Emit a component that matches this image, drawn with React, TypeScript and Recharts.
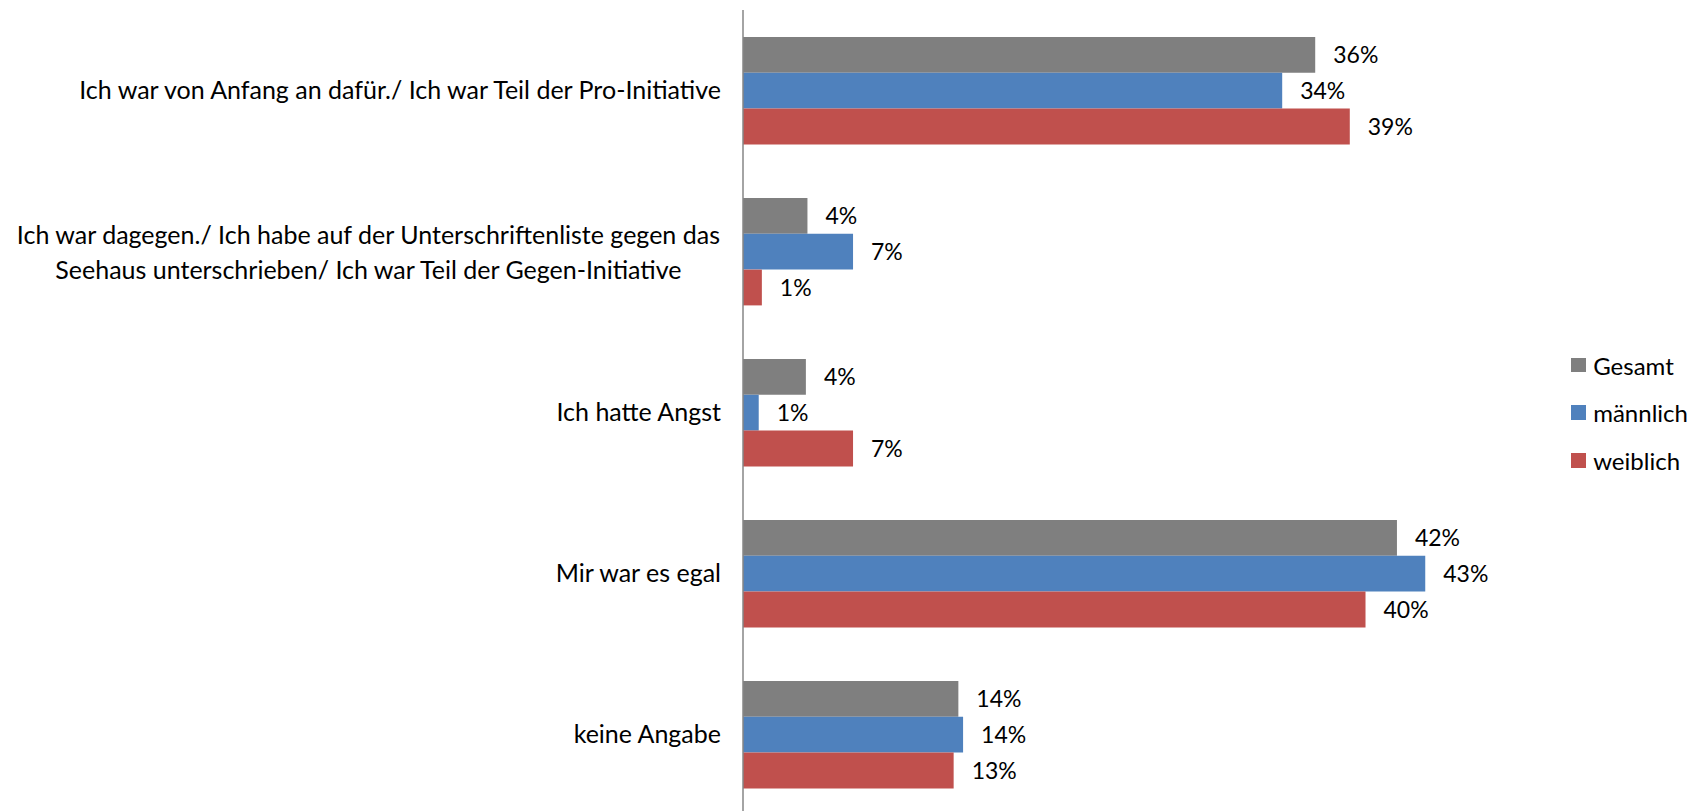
import React from 'react';
import { BarChart, Bar, XAxis, YAxis, LabelList } from 'recharts';

const categories = [
  'Ich war von Anfang an dafür./ Ich war Teil der Pro-Initiative',
  'Ich war dagegen./ Ich habe auf der Unterschriftenliste gegen das\nSeehaus unterschrieben/ Ich war Teil der Gegen-Initiative',
  'Ich hatte Angst',
  'Mir war es egal',
  'keine Angabe',
];
const gesamt = [36.4, 4.1, 4.0, 41.6, 13.7];
const maennlich = [34.3, 7.0, 1.0, 43.4, 14.0];
const weiblich = [38.6, 1.2, 7.0, 39.6, 13.4];
const seriesKeys = ['gesamt', 'maennlich', 'weiblich'];
const seriesNames = ['Gesamt', 'männlich', 'weiblich'];
const seriesColors = ['#7F7F7F', '#4F81BD', '#C0504D'];
const xDomain = [0, 50];

const data = categories.map((name, i) => ({
  name,
  gesamt: gesamt[i],
  maennlich: maennlich[i],
  weiblich: weiblich[i],
}));

const FONT = 'Lato, sans-serif';
const CAT_SIZE = 25;
const LABEL_SIZE = 23;
const LEGEND_SIZE = 24;

let ctx: CanvasRenderingContext2D | null = null;
function measure(t: string, size: number): number {
  if (!ctx) ctx = document.createElement('canvas').getContext('2d');
  if (!ctx) return t.length * size * 0.5;
  ctx.font = `${size}px Lato`;
  return ctx.measureText(t).width;
}

const CatTick = (props: any) => {
  const { x, y, payload } = props;
  const lines = String(payload.value).split('\n');
  const lh = 34.5;
  if (lines.length === 1) {
    return (
      <text x={x} y={y} dy="0.35em" textAnchor="end" fontFamily={FONT} fontSize={CAT_SIZE} fill="#000">
        {lines[0]}
      </text>
    );
  }
  const maxW = Math.max(...lines.map((l) => measure(l, CAT_SIZE)));
  const cx = x - maxW / 2;
  return (
    <g>
      {lines.map((l, i) => (
        <text
          key={i}
          x={cx}
          y={y + 1 + (i - (lines.length - 1) / 2) * lh}
          dy="0.35em"
          textAnchor="middle"
          fontFamily={FONT}
          fontSize={CAT_SIZE}
          fill="#000"
        >
          {l}
        </text>
      ))}
    </g>
  );
};

const fmt = (v: any) => `${Math.round(Number(v))}%`;

export default function App() {
  return (
    <div
      style={{
        position: 'absolute',
        left: 0,
        top: 0,
        width: 1694,
        height: 811,
        overflow: 'hidden',
        background: '#fff',
      }}
    >
      <BarChart
        width={1694}
        height={815}
        data={data}
        layout="vertical"
        margin={{ top: 10, right: 165, bottom: 0, left: 0 }}
        barGap={0}
        barSize={35.8}
      >
        <XAxis type="number" domain={xDomain} hide />
        <YAxis
          type="category"
          dataKey="name"
          width={743}
          interval={0}
          axisLine={{ stroke: '#868686', strokeWidth: 1.5 }}
          tickLine={false}
          tickSize={0}
          tickMargin={22}
          tick={<CatTick />}
        />
        {seriesKeys.map((k, i) => (
          <Bar key={k} dataKey={k} name={seriesNames[i]} fill={seriesColors[i]} isAnimationActive={false}>
            <LabelList
              dataKey={k}
              position="right"
              offset={18}
              formatter={fmt}
              fill="#000"
              fontFamily={FONT}
              fontSize={LABEL_SIZE}
            />
          </Bar>
        ))}
      </BarChart>
      {seriesNames.map((n, i) => (
        <div
          key={n}
          style={{
            position: 'absolute',
            left: 1571,
            top: 365 + i * 47.7 - 20,
            height: 40,
            display: 'flex',
            alignItems: 'center',
            fontFamily: FONT,
            fontSize: LEGEND_SIZE,
            color: '#000',
            whiteSpace: 'nowrap',
          }}
        >
          <span style={{ display: 'inline-block', width: 14.7, height: 14.7, background: seriesColors[i], marginRight: 7.5 }} />
          <span>{n}</span>
        </div>
      ))}
    </div>
  );
}
